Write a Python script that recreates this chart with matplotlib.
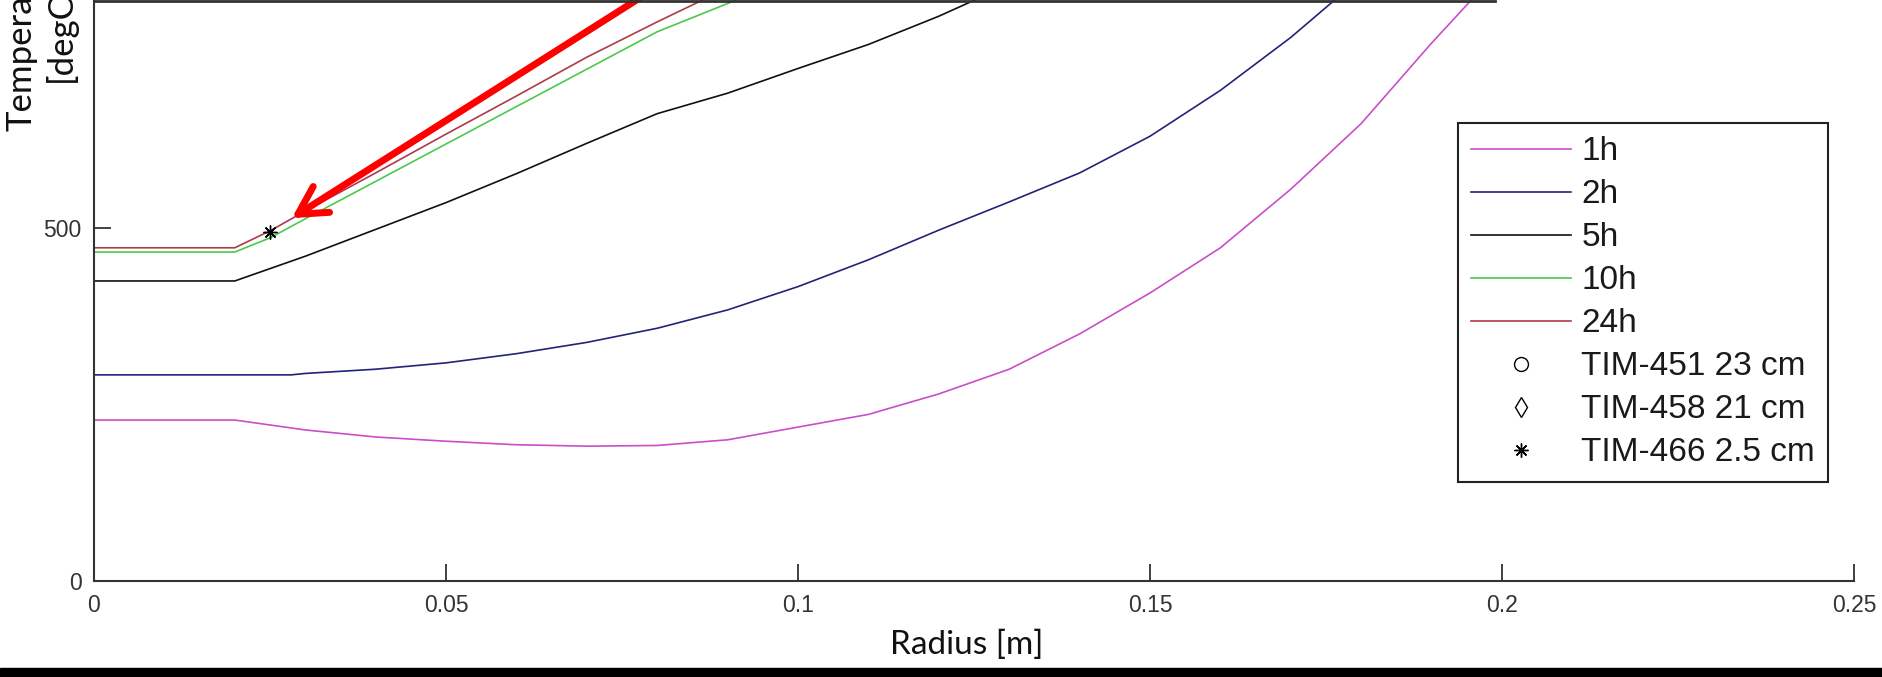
import matplotlib
matplotlib.use('Agg')
import matplotlib.pyplot as plt
import numpy as np
from matplotlib.lines import Line2D
from matplotlib.patches import Rectangle

# radius [m] and temperature [degC]
r_1h = [0.0, 0.02, 0.03, 0.04, 0.05, 0.06, 0.07, 0.08, 0.09, 0.10, 0.11, 0.12, 0.13, 0.14, 0.15, 0.16, 0.17, 0.18, 0.19, 0.20]
t_1h = [228, 228, 214, 204, 198, 193, 191, 192, 200, 218, 236, 265, 300, 350, 408, 472, 555, 648, 762, 870]

r_2h = [0.0, 0.02, 0.028, 0.03, 0.04, 0.05, 0.06, 0.07, 0.08, 0.09, 0.10, 0.11, 0.12, 0.13, 0.14, 0.15, 0.16, 0.17, 0.18]
t_2h = [292, 292, 292, 294, 300, 309, 322, 338, 358, 384, 417, 455, 497, 537, 578, 630, 695, 770, 855]

r_5h = [0.0, 0.02, 0.03, 0.04, 0.05, 0.06, 0.07, 0.08, 0.09, 0.10, 0.11, 0.12, 0.13]
t_5h = [425, 425, 460, 498, 536, 577, 620, 662, 691, 726, 760, 800, 845]

r_10h = [0.0, 0.02, 0.025, 0.03, 0.04, 0.05, 0.06, 0.07, 0.08, 0.09, 0.10]
t_10h = [466, 466, 486, 513, 566, 619, 672, 725, 778, 818, 858]

r_24h = [0.0, 0.02, 0.025, 0.03, 0.04, 0.05, 0.06, 0.07, 0.08, 0.09]
t_24h = [472, 472, 496, 524, 578, 633, 687, 742, 792, 840]

series_labels = ['1h', '2h', '5h', '10h', '24h']
series_colors = ['#c84fc8', '#23237a', '#111111', '#4cc84c', '#b03a48']

# thermocouples (only TIM-466 falls inside the visible window)
tim_labels = ['TIM-451 23 cm', 'TIM-458 21 cm', 'TIM-466 2.5 cm']
tim_r = [np.nan, np.nan, 0.025]
tim_t = [np.nan, np.nan, 494]

x_ticks = [0, 0.05, 0.1, 0.15, 0.2, 0.25]
x_ticklabels = ['0', '0.05', '0.1', '0.15', '0.2', '0.25']
y_ticks = [0, 500]

arrow_tip = (0.0281, 514)
arrow_tail = (0.0804, 844)

W, H = 1883, 677
fig = plt.figure(figsize=(W / 100, H / 100), dpi=100)
ax = fig.add_axes([94 / W, 96 / H, (1854 - 94) / W, 581 / H])

curves = [(r_1h, t_1h), (r_2h, t_2h), (r_5h, t_5h), (r_10h, t_10h), (r_24h, t_24h)]
for (r, t), lab, col in zip(curves, series_labels, series_colors):
    ax.plot(r, t, color=col, lw=1.2, label=lab)

ax.plot(tim_r[0], tim_t[0], 'o', mfc='none', mec='k', ms=10, mew=1, label=tim_labels[0])
ax.plot(tim_r[1], tim_t[1], 'd', mfc='none', mec='k', ms=10, mew=1, label=tim_labels[1])
ax.plot(tim_r[2], tim_t[2], marker=(8, 2, 0), ls='none', color='k', ms=10, mew=1, label=tim_labels[2])

ax.set_xlim(0, 0.25)
ax.set_ylim(0, 823)
ax.set_xticks(x_ticks)
ax.set_xticklabels(x_ticklabels)
ax.set_yticks(y_ticks)
ax.tick_params(direction='in', length=12, width=1.3, colors='#333333', labelsize=16.5, pad=9)
for lbl in ax.get_xticklabels() + ax.get_yticklabels():
    lbl.set_fontfamily('Liberation Sans')

for side in ['top', 'right']:
    ax.spines[side].set_visible(False)
for side in ['left', 'bottom']:
    ax.spines[side].set_color('#333333')
    ax.spines[side].set_linewidth(1.5)

ax.annotate('', xy=arrow_tip, xytext=arrow_tail, xycoords='data',
            arrowprops=dict(arrowstyle='->,head_length=1.0,head_width=0.55', color='#ff0000',
                            lw=5, shrinkA=0, shrinkB=0, mutation_scale=20),
            annotation_clip=False)

leg = ax.legend(loc='upper left', bbox_to_anchor=(1458 / W, 1 - 123 / H),
                bbox_transform=fig.transFigure, borderaxespad=0,
                prop={'family': 'Liberation Sans', 'size': 24},
                handlelength=3.0, handletextpad=0.3, labelspacing=0.36,
                borderpad=0.4, fancybox=False, framealpha=1, numpoints=1)
leg.get_frame().set_edgecolor('#222222')
leg.get_frame().set_linewidth(1.5)
for txt in leg.get_texts():
    txt.set_color('#1a1a1a')

# top border line of the cropped screenshot
fig.add_artist(Line2D([94 / W, 1495 / W], [1 - 1 / H, 1 - 1 / H], color='#333333', lw=2,
                      transform=fig.transFigure))

fig.text(967 / W, 1 - 645 / H, 'Radius [m]', ha='center', va='center',
         fontsize=24, family='Lato', color='#111111')
fig.text(41 / W, 1 - 32 / H, 'Temperature\n[degC]', rotation=90, ha='center', va='center',
         multialignment='center', linespacing=1.25, fontsize=25, family='Lato', color='#111111')

fig.add_artist(Rectangle((0, 0), 1, 9 / H, transform=fig.transFigure, color='black'))

fig.savefig('out.png', dpi=100)
